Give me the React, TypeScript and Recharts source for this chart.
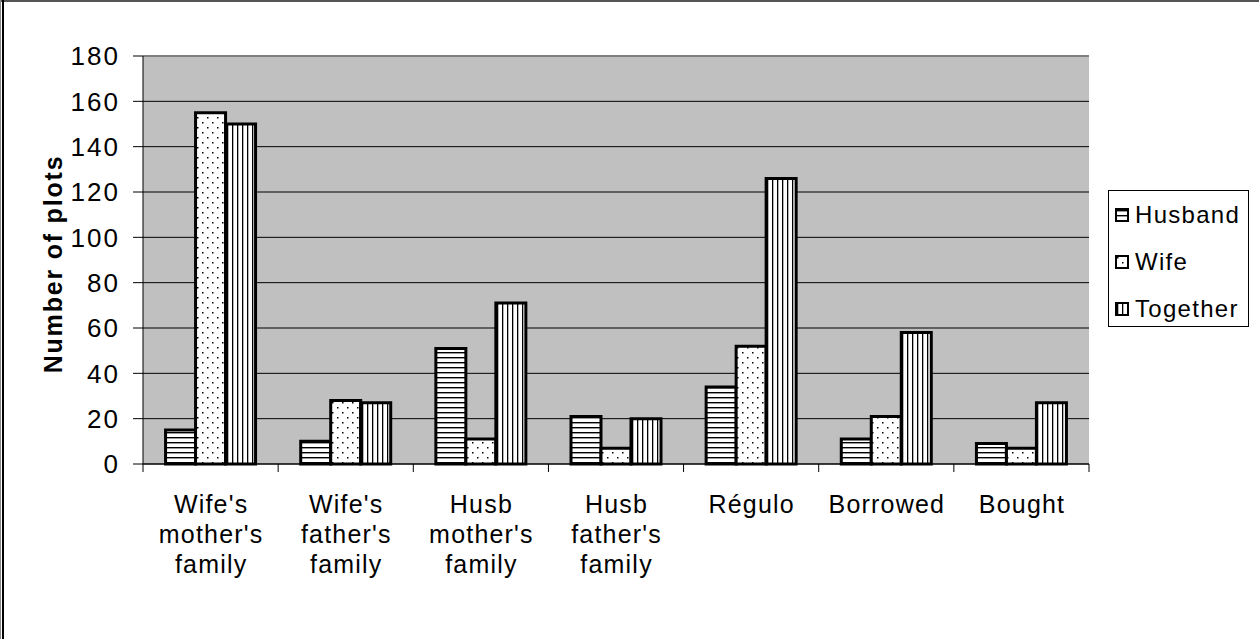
import React from "react";
import {
  BarChart,
  Bar,
  XAxis,
  YAxis,
  CartesianGrid,
  ReferenceLine,
} from "recharts";

const categories = [
  "Wife's\nmother's\nfamily",
  "Wife's\nfather's\nfamily",
  "Husb\nmother's\nfamily",
  "Husb\nfather's\nfamily",
  "Régulo",
  "Borrowed",
  "Bought",
];
const husband = [15, 10, 51, 21, 34, 11, 9];
const wife = [155, 28, 11, 7, 52, 21, 7];
const together = [150, 27, 71, 20, 126, 58, 27];
const yTicks = [0, 20, 40, 60, 80, 100, 120, 140, 160, 180];

const series = [
  { key: "husband", name: "Husband", fill: "url(#hatchH)" },
  { key: "wife", name: "Wife", fill: "url(#dots)" },
  { key: "together", name: "Together", fill: "url(#hatchV)" },
];

const data = categories.map((name, i) => ({
  name,
  husband: husband[i],
  wife: wife[i],
  together: together[i],
}));

const W = 1259;
const H = 639;
const PLOT_LEFT = 143;
const PLOT_RIGHT = 1089;
const PLOT_TOP = 56;
const PLOT_BOTTOM = 464;
const X_AXIS_H = 120;
const BAND = (PLOT_RIGHT - PLOT_LEFT) / categories.length;
const FONT = "'Liberation Sans', Arial, sans-serif";

function Patterns() {
  return (
    <defs>
      <pattern id="hatchH" width="6" height="5" patternUnits="userSpaceOnUse">
        <rect width="6" height="5" fill="#fff" />
        <rect y="2" width="6" height="1.4" fill="#000" />
      </pattern>
      <pattern id="hatchV" width="5" height="6" patternUnits="userSpaceOnUse">
        <rect width="5" height="6" fill="#fff" />
        <rect x="2" width="1.3" height="6" fill="#000" />
      </pattern>
      <pattern id="dots" width="10" height="10" patternUnits="userSpaceOnUse">
        <rect width="10" height="10" fill="#fff" />
        <rect x="2" y="2" width="1.5" height="1.5" fill="#000" />
        <rect x="7" y="7" width="1.5" height="1.5" fill="#000" />
      </pattern>
    </defs>
  );
}

function CategoryTick(props: any) {
  const { x, y, payload, index } = props;
  const lines = String(payload.value).split("\n");
  const last = index === categories.length - 1;
  return (
    <g>
      <line x1={x - BAND / 2} x2={x - BAND / 2} y1={y} y2={y + 8} stroke="#000" />
      {last && <line x1={x + BAND / 2} x2={x + BAND / 2} y1={y} y2={y + 8} stroke="#000" />}
      <text
        x={x}
        y={y}
        textAnchor="middle"
        fontSize={25}
        letterSpacing={1.2}
        fontFamily={FONT}
        fill="#000"
      >
        {lines.map((l, i) => (
          <tspan key={i} x={x + 0.6} dy={i === 0 ? 49 : 30}>
            {l}
          </tspan>
        ))}
      </text>
    </g>
  );
}

// legend box sits to the right of the plot, outside the chart's layout
function LegendBox() {
  return (
    <div
      style={{
        position: "absolute",
        left: 1108,
        top: 190,
        border: "1px solid #000",
        background: "#fff",
        width: 141,
        height: 137,
        boxSizing: "border-box",
        padding: "0 0 0 6px",
        fontFamily: FONT,
        fontSize: 24,
        letterSpacing: 1.3,
      }}
    >
      {series.map((s) => (
        <div key={s.key} style={{ display: "flex", alignItems: "center", height: 47 }}>
          <svg width={14} height={14} style={{ marginRight: 6 }}>
            <Patterns />
            <rect x={1} y={1} width={12} height={12} fill={s.fill} stroke="#000" strokeWidth={2} />
          </svg>
          <span>{s.name}</span>
        </div>
      ))}
    </div>
  );
}

export default function App() {
  return (
    <div
      style={{
        position: "fixed",
        left: 0,
        top: 0,
        width: W,
        height: H,
        background: "#fff",
        overflow: "hidden",
      }}
    >
      <div style={{ position: "absolute", left: 0, top: 0 }}>
        <BarChart
          width={W}
          height={H}
          data={data}
          barCategoryGap="16.7%"
          barGap={0}
          margin={{
            top: PLOT_TOP,
            right: W - PLOT_RIGHT,
            bottom: H - PLOT_BOTTOM - X_AXIS_H,
            left: 0,
          }}
        >
          <Patterns />
          <CartesianGrid vertical={false} stroke="#000" fill="#c0c0c0" fillOpacity={1} />
          <XAxis
            dataKey="name"
            height={X_AXIS_H}
            interval={0}
            tickLine={false}
            tickSize={0}
            tickMargin={0}
            axisLine={{ stroke: "#000" }}
            tick={<CategoryTick />}
          />
          <YAxis
            width={PLOT_LEFT}
            domain={[0, 180]}
            ticks={yTicks}
            interval={0}
            tickSize={10}
            tickMargin={13}
            axisLine={{ stroke: "#000" }}
            tickLine={{ stroke: "#000" }}
            tick={{ fontSize: 26, fill: "#000", fontFamily: FONT, letterSpacing: 2 }}
            label={{
              content: () => (
                <text
                  x={53}
                  y={264}
                  transform="rotate(-90 53 264)"
                  textAnchor="middle"
                  dominantBaseline="central"
                  fontSize={25}
                  letterSpacing={1.8}
                  fontWeight="bold"
                  fontFamily={FONT}
                  fill="#000"
                >
                  Number of plots
                </text>
              ),
            }}
          />
          <YAxis
            yAxisId="frame"
            orientation="right"
            width={0}
            domain={[0, 180]}
            tick={false}
            tickLine={false}
            axisLine={{ stroke: "#808080", strokeWidth: 2 }}
          />
          <ReferenceLine y={180} stroke="#808080" strokeWidth={2} />
          {series.map((s) => (
            <Bar
              key={s.key}
              dataKey={s.key}
              name={s.name}
              fill={s.fill}
              stroke="#000"
              strokeWidth={3}
              isAnimationActive={false}
            />
          ))}
        </BarChart>
      </div>
      <LegendBox />
      <div style={{ position: "absolute", left: 0, top: 0, width: W, height: 2, background: "#555" }} />
      <div style={{ position: "absolute", left: 0, top: 0, width: 1, height: H, background: "#888" }} />
      <div style={{ position: "absolute", left: 2, top: 0, width: 2, height: H, background: "#000" }} />
    </div>
  );
}
